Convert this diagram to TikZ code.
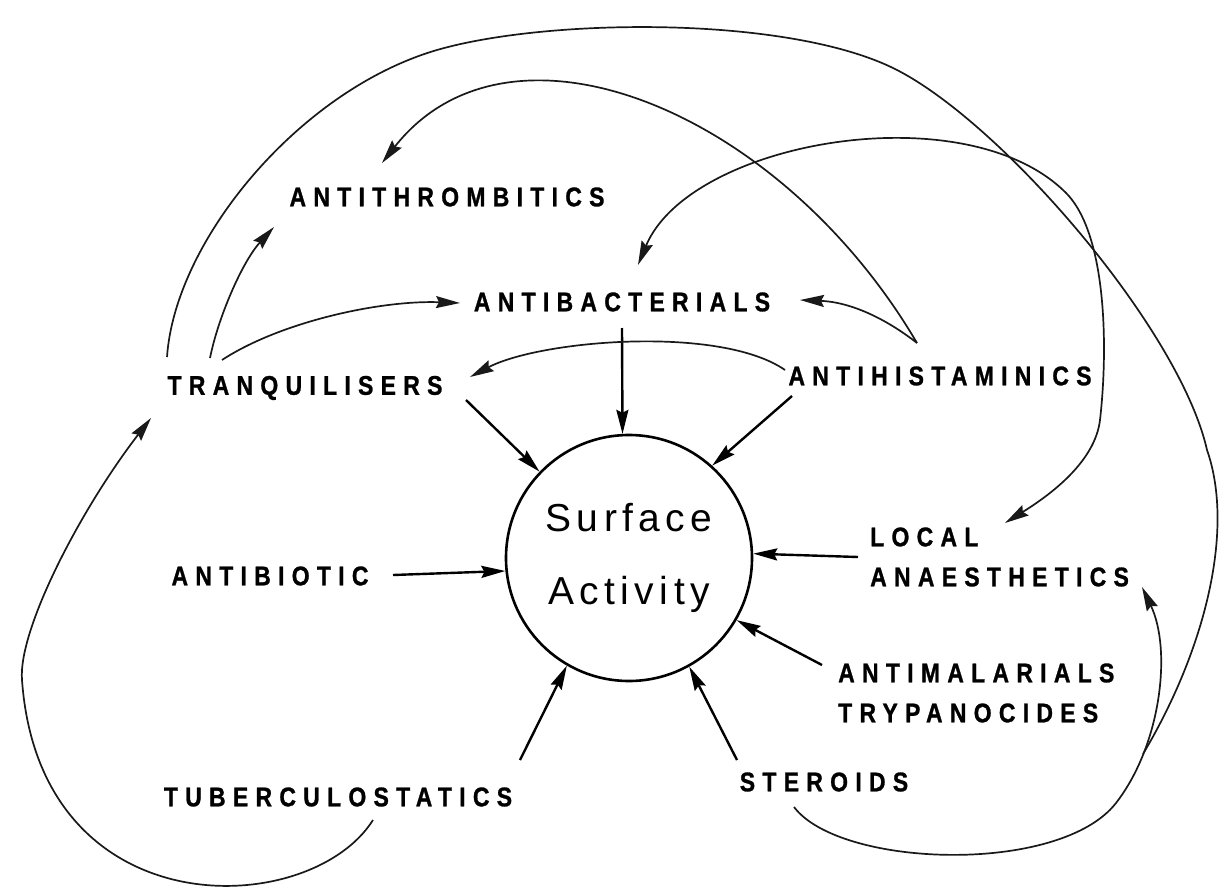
\documentclass[tikz,border=0pt]{standalone}
\usepackage{fontspec}
\usetikzlibrary{arrows.meta}
\newfontfamily\labfont{Liberation Sans}[FakeStretch=0.85,LetterSpace=27,FakeBold=1]
\newfontfamily\safont{Liberation Sans}[LetterSpace=14]
\begin{document}
\begin{tikzpicture}[x=1pt,y=-1pt,
  lab/.style={font={\labfont\bfseries\fontsize{27}{40}\selectfont}, inner sep=4pt, text=black},
  tip/.style={-{Stealth[length=24pt,width=12pt,inset=3pt]}},
  con/.style={line width=1.7pt, draw=black!90, tip},
  ray/.style={line width=2.4pt, draw=black, tip},
  dbl/.style={line width=1.7pt, draw=black!90,
     {Stealth[length=24pt,width=12pt,inset=3pt]}-{Stealth[length=24pt,width=12pt,inset=3pt]}},
  loop/.style={line width=1.7pt, draw=black!90}]
\useasboundingbox (0,0) rectangle (1223,896);

% central circle
\node[draw, circle, line width=2.6pt, minimum size=246pt, inner sep=0pt, align=center,
      font={\safont\fontsize{39}{73}\selectfont}] (sa) at (629,558) {Surface\\Activity};

% labels
\node[lab] (athr)  at (447,197) {ANTITHROMBITICS};
\node[lab] (abact) at (622,302) {ANTIBACTERIALS};
\node[lab] (tranq) at (305,388) {TRANQUILISERS};
\node[lab] (ahist) at (940,376) {ANTIHISTAMINICS};
\node[lab, anchor=west, align=left] (local) at (866,557) {LOCAL\\ANAESTHETICS};
\node[lab] (abio)  at (270,576) {ANTIBIOTIC};
\node[lab, anchor=west, align=left] (amal) at (834,693) {ANTIMALARIALS\\TRYPANOCIDES};
\node[lab] (tub)   at (338,797) {TUBERCULOSTATICS};
\node[lab] (ster)  at (824,782) {STEROIDS};
\coordinate (merge) at (1143,754);

% straight arrows into the circle
\draw[ray] ([shift={(161,12)}]tranq.center) -- (sa.136);
\draw[ray] ([shift={(0,26)}]abact.center) -- (sa.93);
\draw[ray] ([shift={(-148,20)}]ahist.center) -- (sa.48);
\draw[ray] ([xshift=-8pt]local.west) -- (sa.2);
\draw[ray] ([shift={(123,-1)}]abio.center) -- (sa.186);
\draw[ray] ([shift={(-12,-28)}]amal.west) -- (sa.-30);
\draw[ray] ([shift={(-87,-22)}]ster.center) -- (sa.-61);
\draw[ray] ([shift={(182,-37)}]tub.center) -- (sa.-120);

% curved connectors
\draw[con] ([shift={(-95,-30)}]tranq.center) .. controls (218,318) and (242,262) .. ([shift={(-173,30)}]athr.center);
\draw[con] ([shift={(-83,-28)}]tranq.center) .. controls (280,322) and (380,300) .. ([shift={(-162,1)}]abact.center);
\draw[con] ([shift={(-155,-6)}]ahist.center) .. controls (720,325) and (540,340) .. ([shift={(165,-11)}]tranq.center);
\draw[con] ([shift={(-23,-33)}]ahist.center) .. controls (885,318) and (850,302) .. ([shift={(178,-2)}]abact.center);
\draw[con] ([shift={(-23,-33)}]ahist.center) .. controls (780,110) and (510,0) .. ([shift={(-65,-34)}]athr.center);
\draw[dbl] ([shift={(16,-37)}]abact.center) .. controls (690,140) and (970,92) .. (1068,195)
   .. controls (1107,238) and (1108,350) .. (1100,420)
   .. controls (1095,462) and (1050,495) .. ([shift={(139,-34)}]local.west);
\draw[loop] ([shift={(-138,-31)}]tranq.center) .. controls (175,240) and (300,90) .. (437,50)
   .. controls (547,18) and (790,15) .. (897,70)
   .. controls (1004,125) and (1180,330) .. (1207,450)
   .. controls (1235,530) and (1205,650) .. (merge);
\draw[con] ([shift={(-30,25)}]ster.center) .. controls (840,868) and (1060,875) .. (1116,803)
   .. controls (1161,745) and (1172,650) .. ([shift={(276,30)}]local.west);
\draw[con] ([shift={(35,23)}]tub.center) .. controls (310,920) and (40,930) .. (22,680)
   .. controls (18,630) and (80,510) .. ([shift={(-154,30)}]tranq.center);
\end{tikzpicture}
\end{document}
